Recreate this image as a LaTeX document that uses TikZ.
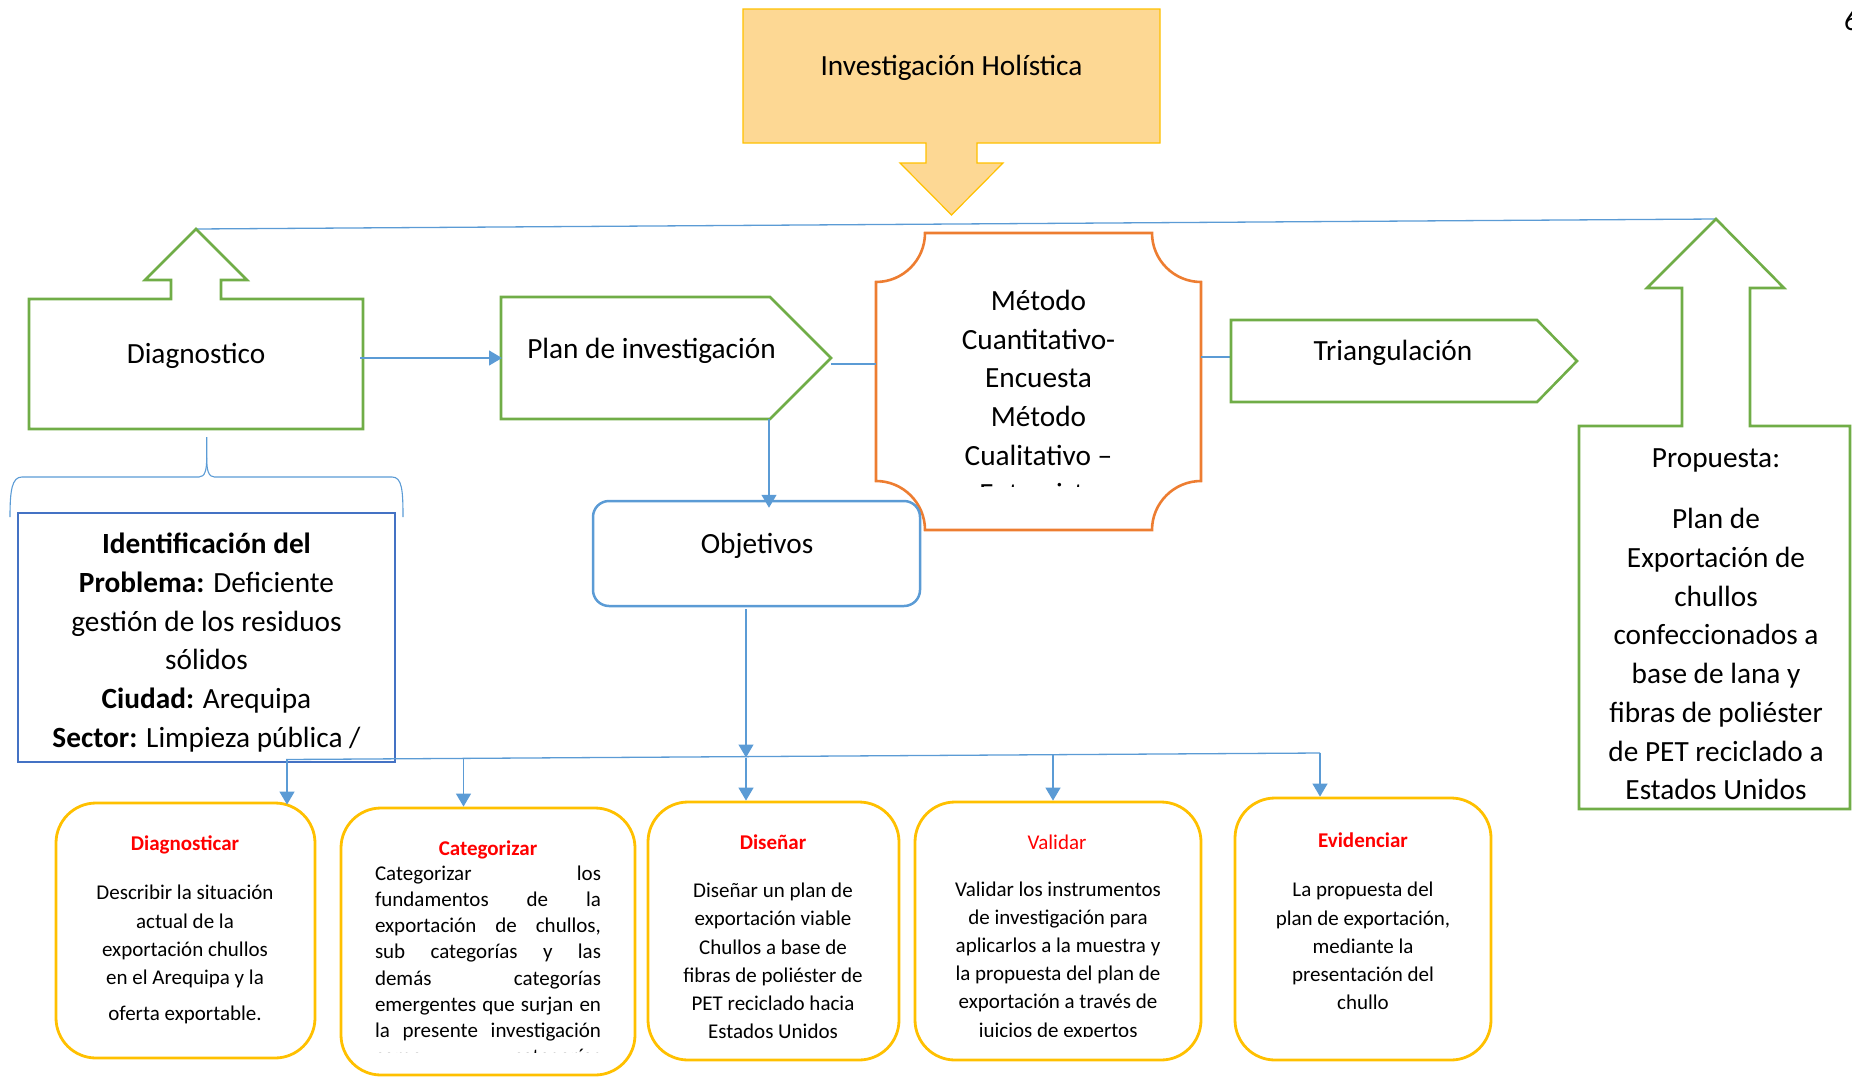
\documentclass[tikz,border=0pt]{standalone}
\usepackage{fontspec}
\setmainfont{Carlito}
\usetikzlibrary{positioning}
\usetikzlibrary{calc}
\usetikzlibrary{arrows.meta}
\definecolor{mapgreen}{HTML}{70AD47}
\definecolor{mapblue}{HTML}{5B9BD5}
\definecolor{mapnavy}{HTML}{4472C4}
\definecolor{maporange}{HTML}{ED7D31}
\definecolor{mapgold}{HTML}{FFC000}
\definecolor{mapcream}{RGB}{253,216,148}
\definecolor{mapred}{HTML}{FF0000}

\begin{document}
\begin{tikzpicture}[x=1pt, y=-1pt,
    greenshape/.style={draw=mapgreen, line width=2.6pt},
    connector/.style={draw=mapblue, line width=1.3pt},
    arrowconn/.style={connector, -{Triangle[length=13pt, width=15pt]}},
    bigtext/.style={font=\fontsize{29.3}{38.7}\selectfont, align=center, inner sep=0pt, yshift=-2.5pt},
    smalltext/.style={font=\fontsize{21}{28.2}\selectfont, align=center, inner sep=0pt, yshift=-2.5pt},
    goaltitle/.style={font=\fontsize{21}{25}\selectfont\bfseries, text=mapred, inner sep=0pt, yshift=-2.5pt},
    goalbox/.style={draw=mapgold, line width=2.8pt, rounded corners=40pt}]
\useasboundingbox (0,0) rectangle (1852,1076);

\filldraw[draw=mapgold, fill=mapcream, line width=1.2pt] (743,9) -- (1160,9) -- (1160,143) -- (977,143) -- (977,163) -- (1003,163) -- (951.5,215) -- (900,163) -- (926,163) -- (926,143) -- (743,143) -- cycle;
\node (holistica) [bigtext] at (951.5,65) {Investigación Holística};
\node (pagina) [bigtext, anchor=west] at (1844,18) {6};

\coordinate (diagtip) at (196,229);
\coordinate (proptip) at (1716,219);
\draw[connector] (diagtip) -- (proptip);

\draw[greenshape] (29,299) -- (171,299) -- (171,280) -- (145,280) -- (diagtip) -- (247,280) -- (221,280) -- (221,299) -- (363,299) -- (363,429) -- (29,429) -- cycle;
\node (diagnostico) [bigtext] at (196,353) {Diagnostico};

\draw[greenshape] (501,297) -- (770,297) -- (831,358) -- (770,419) -- (501,419) -- cycle;
\node (plan) [bigtext] at (651.5,348) {Plan de investigación};

\coordinate (diagout) at (360,358);
\coordinate (planin) at (502,358);
\draw[arrowconn] (diagout) -- (planin);

\draw[draw=maporange, line width=2.6pt] (925,233) -- (1152,233) .. controls (1152,260) and (1174,282) .. (1201,282) -- (1201,481) .. controls (1174,481) and (1152,503) .. (1152,530) -- (925,530) .. controls (925,503) and (903,481) .. (876,481) -- (876,282) .. controls (903,282) and (925,260) .. (925,233) -- cycle;
\begin{scope}
\clip (880,240) rectangle (1197,486);
\node (metodo) [bigtext] at (1038.5,394.5) {Método\\Cuantitativo-\\Encuesta\\Método\\Cualitativo –\\Entrevista};
\end{scope}
\coordinate (planout) at (831,364);
\coordinate (metodoin) at (876,364);
\draw[connector] (planout) -- (metodoin);

\coordinate (metodoout) at (1201,357);
\coordinate (triangin) at (1231,357);
\draw[connector] (metodoout) -- (triangin);
\draw[greenshape] (1231,320) -- (1537,320) -- (1577,361) -- (1537,402) -- (1231,402) -- cycle;
\node (triangulacion) [bigtext] at (1393,350) {Triangulación};

\draw[greenshape] (1579,426) -- (1682,426) -- (1682,288) -- (1647,288) -- (proptip) -- (1784,288) -- (1750,288) -- (1750,426) -- (1850,426) -- (1850,809) -- (1579,809) -- cycle;
\node (propuesta) [bigtext] at (1716,622) {Propuesta:\\[22.3pt]Plan de\\Exportación de\\chullos\\confeccionados a\\base de lana y\\fibras de poliéster\\de PET reciclado a\\Estados Unidos};

\coordinate (diagdown) at (206.7,437);
\draw[connector, line width=1.1pt] (10,517) .. controls (10,490) and (12,477) .. (22,477) -- (199,477) .. controls (205,477) and (206.7,470) .. (206.7,458) -- (diagdown);
\draw[connector, line width=1.1pt] (206.7,458) .. controls (206.7,470) and (208.4,477) .. (214.4,477) -- (392,477) .. controls (402,477) and (403,490) .. (403,517);
\node (identificacion) [draw=mapnavy, line width=2.6pt, minimum width=377pt, minimum height=249pt] at (206.5,637.5) {};
\node (identtext) [bigtext] at (206.5,640) {\textbf{Identificación del}\\\textbf{Problema:} Deficiente\\gestión de los residuos\\sólidos\\\textbf{Ciudad:} Arequipa\\\textbf{Sector:} Limpieza pública /};

\node (objetivos) [draw=mapblue, line width=2.5pt, rounded corners=16pt, minimum width=327pt, minimum height=105pt] at (756.5,553.5) {};
\node (objetivostxt) [bigtext] at (757,543) {Objetivos};
\coordinate (planbottom) at (769,419);
\draw[arrowconn, shorten >=-8pt] (planbottom) -- (planbottom |- objetivos.north);

\node (diagnosticar) [goalbox, minimum width=259pt, minimum height=255pt] at (185.5,930.5) {};
\node (categorizar) [goalbox, minimum width=294pt, minimum height=267pt] at (488,941.5) {};
\node (disenar) [goalbox, minimum width=251pt, minimum height=258pt] at (773.5,931) {};
\node (validar) [goalbox, minimum width=286pt, minimum height=258pt] at (1058,931) {};
\node (evidenciar) [goalbox, minimum width=256pt, minimum height=262pt] at (1363,929) {};

\node (diagnosticartit) [goaltitle] at (185,842) {Diagnosticar};
\node (categorizartit) [goaltitle] at (488,847) {Categorizar};
\node (disenartit) [goaltitle] at (773,840) {Diseñar};
\node (validartit) [goaltitle, font=\fontsize{21}{25}\selectfont] at (1057,840) {Validar};
\node (evidenciartit) [goaltitle] at (1363,838) {Evidenciar};

\node (diagnosticartxt) [smalltext] at (185,952) {Describir la situación\\actual de la\\exportación chullos\\en el Arequipa y la\\[7.5pt]oferta exportable.};
\begin{scope}
\clip (345,858) rectangle (631,1052);
\node (categorizartxt) [font=\fontsize{21}{26.1}\selectfont, align=left, inner sep=0pt, yshift=-2.5pt] at (488,964) {\makebox[226pt][s]{Categorizar los}\\\makebox[226pt][s]{fundamentos de la}\\\makebox[226pt][s]{exportación de chullos,}\\\makebox[226pt][s]{sub categorías y las}\\\makebox[226pt][s]{demás categorías}\\\makebox[226pt][s]{emergentes que surjan en}\\\makebox[226pt][s]{la presente investigación}\\\makebox[226pt][s]{como categorías}};
\end{scope}
\node (disenartxt) [smalltext] at (773,958.5) {Diseñar un plan de\\exportación viable\\Chullos a base de\\fibras de poliéster de\\PET reciclado hacia\\Estados Unidos};
\begin{scope}
\clip (920,858) rectangle (1196,1036);
\node (validartxt) [smalltext] at (1058,958.5) {Validar los instrumentos\\de investigación para\\aplicarlos a la muestra y\\la propuesta del plan de\\exportación a través de\\juicios de expertos};
\end{scope}
\node (evidenciartxt) [smalltext] at (1363,943.5) {La propuesta del\\plan de exportación,\\mediante la\\presentación del\\chullo};

\coordinate (objout) at (746,609);
\coordinate (busobj) at (746,757.5);
\coordinate (busstart) at (286,759.5);
\coordinate (busend) at (1320,753);
\draw[connector] (busstart) -- (busend);
\draw[arrowconn] (objout) -- (busobj);
\draw[arrowconn] (busobj) -- (busobj |- disenar.north);
\coordinate (busdiag) at (287,759.5);
\draw[arrowconn, shorten >=-3pt] (busdiag) -- (busdiag |- diagnosticar.north);
\coordinate (buscat) at (463.5,758.4);
\draw[arrowconn] (buscat) -- (buscat |- categorizar.north);
\coordinate (busval) at (1053,754.8);
\draw[arrowconn] (busval) -- (busval |- validar.north);
\draw[arrowconn] (busend) -- (busend |- evidenciar.north);
\end{tikzpicture}
\end{document}
